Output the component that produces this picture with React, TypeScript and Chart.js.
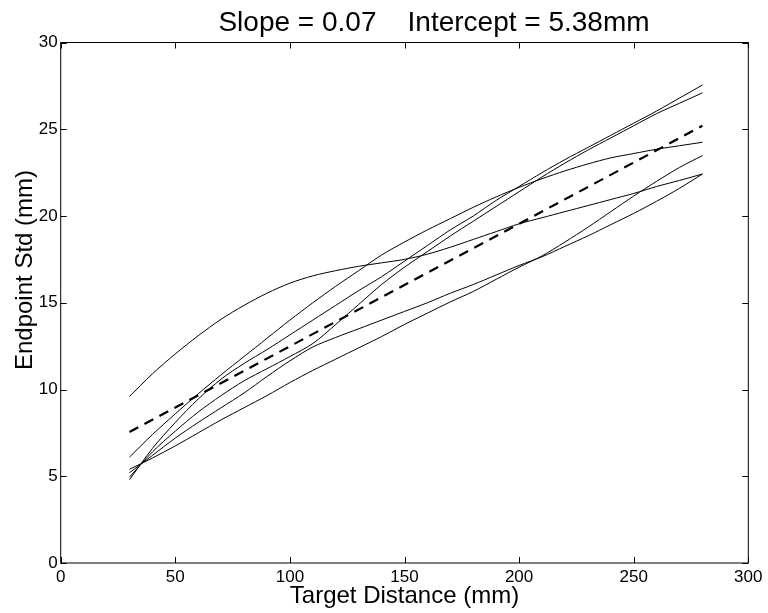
import React, { useEffect, useRef } from "react";
import { Chart, registerables } from "chart.js";

Chart.register(...registerables);

// ---- data ----
const xs = [30, 40, 50, 60, 70, 80, 90, 100, 110, 120, 130, 140, 150, 160, 170, 180, 190, 200, 210, 220, 230, 240, 250, 260, 270, 280];

const curveA = [9.6, 10.9, 12.05, 13.1, 14.05, 14.85, 15.55, 16.13, 16.55, 16.85, 17.1, 17.3, 17.5, 17.8, 18.2, 18.65, 19.1, 19.55, 19.9, 20.25, 20.6, 20.95, 21.3, 21.7, 22.05, 22.42];
const curveB = [6.1, 7.4, 8.6, 9.75, 10.85, 11.9, 12.95, 14.0, 15.0, 15.95, 16.85, 17.75, 18.5, 19.2, 19.85, 20.5, 21.1, 21.65, 22.15, 22.6, 23.0, 23.35, 23.6, 23.85, 24.05, 24.25];
const curveC = [4.8, 6.6, 8.1, 9.45, 10.6, 11.5, 12.3, 13.15, 14.0, 14.85, 15.7, 16.5, 17.4, 18.3, 19.2, 20.0, 20.9, 21.7, 22.5, 23.25, 23.95, 24.65, 25.35, 26.05, 26.8, 27.55];
const curveD = [4.95, 6.4, 7.6, 8.7, 9.65, 10.5, 11.2, 11.9, 12.65, 13.75, 14.9, 16.05, 17.05, 17.95, 18.85, 19.7, 20.55, 21.4, 22.25, 23.05, 23.8, 24.5, 25.2, 25.9, 26.5, 27.1];
const curveE = [5.2, 6.2, 7.2, 8.1, 8.95, 9.8, 10.75, 11.65, 12.45, 13.0, 13.5, 14.0, 14.5, 15.0, 15.55, 16.05, 16.6, 17.15, 17.65, 18.25, 18.85, 19.5, 20.15, 20.85, 21.6, 22.42];
const curveF = [5.4, 6.05, 6.75, 7.5, 8.25, 8.95, 9.65, 10.4, 11.1, 11.75, 12.4, 13.05, 13.75, 14.4, 15.05, 15.65, 16.35, 17.05, 17.7, 18.5, 19.35, 20.25, 21.15, 22.0, 22.8, 23.48];

const fitX = [30, 280];
const fitY = [7.55, 25.2];

const xTicks = [0, 50, 100, 150, 200, 250, 300];
const yTicks = [0, 5, 10, 15, 20, 25, 30];

const titleText = "Slope = 0.07    Intercept = 5.38mm";
const xLabel = "Target Distance (mm)";
const yLabel = "Endpoint Std (mm)";

const FONT = "'Liberation Sans', Arial, Helvetica, sans-serif";

const curves = [curveA, curveB, curveC, curveD, curveE, curveF];

const framePlugin = {
  id: "matlabFrame",
  afterDraw(chart: any) {
    const { ctx, chartArea: a, scales } = chart;
    const sx = scales.x;
    const sy = scales.y;
    ctx.save();
    ctx.strokeStyle = "#000";
    ctx.lineWidth = 1;
    ctx.strokeRect(a.left, a.top, a.right - a.left, a.bottom - a.top);
    ctx.beginPath();
    const tl = 6;
    xTicks.forEach((v) => {
      const px = Math.round(sx.getPixelForValue(v)) + 0.5;
      ctx.moveTo(px, a.bottom);
      ctx.lineTo(px, a.bottom - tl);
      ctx.moveTo(px, a.top);
      ctx.lineTo(px, a.top + tl);
    });
    yTicks.forEach((v) => {
      const py = Math.round(sy.getPixelForValue(v)) + 0.5;
      ctx.moveTo(a.left, py);
      ctx.lineTo(a.left + tl, py);
      ctx.moveTo(a.right, py);
      ctx.lineTo(a.right - tl, py);
    });
    ctx.stroke();

    ctx.fillStyle = "#000";
    ctx.textAlign = "center";
    ctx.textBaseline = "alphabetic";
    ctx.font = `28px ${FONT}`;
    ctx.fillText(titleText, 434, 31);

    ctx.font = `24px ${FONT}`;
    ctx.fillText(xLabel, (a.left + a.right) / 2, 603);

    ctx.save();
    ctx.translate(32, 270);
    ctx.rotate(-Math.PI / 2);
    ctx.fillText(yLabel, 0, 0);
    ctx.restore();
    ctx.restore();
  },
};

export default function App() {
  const ref = useRef<HTMLCanvasElement | null>(null);

  useEffect(() => {
    if (!ref.current) return;
    const datasets: any[] = curves.map((c) => ({
      data: xs.map((x, i) => ({ x, y: c[i] })),
      borderColor: "#000",
      borderWidth: 1,
      pointRadius: 0,
      fill: false,
      tension: 0.3,
    }));
    datasets.push({
      data: fitX.map((x, i) => ({ x, y: fitY[i] })),
      borderColor: "#000",
      borderWidth: 2.2,
      borderDash: [10, 7],
      pointRadius: 0,
      fill: false,
      tension: 0,
    });

    const chart = new Chart(ref.current, {
      type: "line",
      data: { datasets },
      options: {
        animation: false,
        responsive: false,
        maintainAspectRatio: false,
        layout: { padding: { left: 0, right: 19.7, top: 42.5, bottom: 0 } },
        plugins: { legend: { display: false }, tooltip: { enabled: false }, title: { display: false } },
        scales: {
          x: {
            type: "linear",
            min: 0,
            max: 300,
            grid: { display: false, drawTicks: false },
            border: { display: false },
            ticks: {
              stepSize: 50,
              color: "#000",
              padding: 4,
              maxRotation: 0,
              font: { size: 17, family: FONT },
            },
            afterFit: (s: any) => {
              s.height = 50;
            },
          },
          y: {
            type: "linear",
            min: 0,
            max: 30,
            grid: { display: false, drawTicks: false },
            border: { display: false },
            ticks: {
              stepSize: 5,
              color: "#000",
              padding: 3,
              font: { size: 17, family: FONT },
            },
            afterFit: (s: any) => {
              s.width = 60.7;
            },
          },
        },
      },
      plugins: [framePlugin],
    });
    return () => chart.destroy();
  }, []);

  return (
    <div style={{ position: "absolute", left: 0, top: 0, width: 768, height: 613, background: "#fff" }}>
      <canvas ref={ref} width={768} height={613} style={{ display: "block" }} />
    </div>
  );
}
